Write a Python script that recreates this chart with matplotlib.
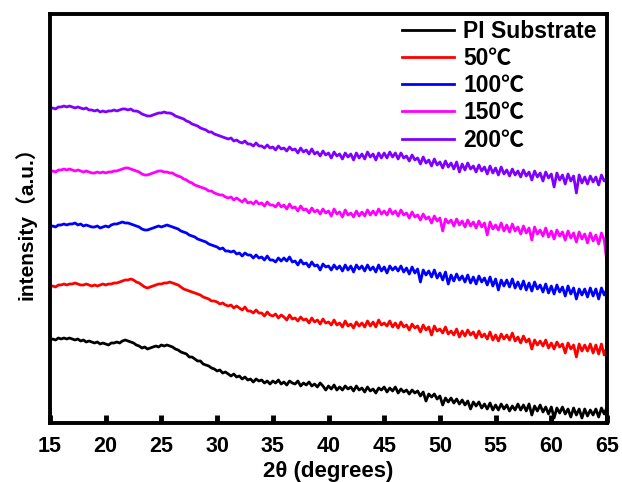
import matplotlib.pyplot as plt
import numpy as np

plt.rcParams['font.family'] = ['Liberation Sans', 'Noto Sans CJK SC']
plt.rcParams['font.weight'] = 'bold'

# 2-theta sampling grid, 0.25 degree steps
two_theta = np.linspace(15, 65, 201)

# intensities (a.u.)
pi_substrate = [
    83, 84, 83, 85, 84, 85, 84, 85, 84, 83, 84, 82, 83, 81, 82, 81,
    80, 81, 79, 80, 79, 78, 80, 80, 81, 80, 82, 83, 82, 81, 80, 78,
    77, 75, 76, 74, 75, 76, 77, 76, 78, 77, 78, 77, 76, 74, 73, 71,
    70, 69, 66, 66, 64, 62, 62, 59, 58, 57, 55, 54, 52, 53, 50, 51,
    49, 47, 49, 46, 47, 44, 46, 43, 44, 41, 44, 42, 43, 40, 42, 39,
    42, 40, 43, 39, 41, 38, 42, 40, 39, 42, 37, 40, 38, 41, 37, 39,
    36, 40, 37, 33, 37, 34, 38, 33, 36, 33, 37, 34, 36, 32, 37, 33,
    35, 31, 36, 32, 34, 30, 35, 33, 36, 31, 35, 32, 36, 30, 34, 31,
    33, 29, 33, 30, 32, 27, 31, 22, 29, 26, 29, 24, 27, 18, 25, 21,
    25, 20, 24, 19, 23, 18, 22, 14, 21, 17, 21, 15, 19, 14, 20, 13,
    18, 13, 19, 14, 18, 12, 17, 13, 19, 13, 18, 12, 19, 8, 17, 12,
    18, 11, 16, 9, 16, 5, 15, 10, 16, 9, 14, 6, 15, 8, 14, 5,
    14, 7, 13, 8, 14, 6, 15, 9, 16,
]
t50 = [
    136, 137, 136, 138, 138, 139, 138, 139, 139, 140, 139, 138, 138, 139, 138, 137,
    138, 137, 138, 139, 138, 139, 139, 140, 140, 141, 142, 143, 143, 144, 143, 141,
    140, 138, 136, 135, 136, 137, 138, 139, 139, 140, 140, 141, 140, 139, 138, 136,
    134, 133, 132, 131, 130, 129, 128, 126, 125, 124, 122, 122, 121, 119, 120, 118,
    117, 118, 115, 117, 115, 113, 116, 112, 112, 110, 113, 110, 110, 107, 111, 108,
    107, 109, 105, 108, 106, 103, 108, 104, 105, 102, 106, 103, 104, 100, 105, 101,
    103, 99, 104, 100, 101, 98, 103, 98, 100, 96, 102, 97, 99, 95, 101, 97,
    100, 96, 102, 97, 101, 96, 103, 98, 100, 97, 102, 96, 100, 95, 101, 96,
    98, 93, 99, 95, 97, 91, 98, 93, 96, 88, 97, 92, 94, 90, 96, 89,
    92, 88, 94, 86, 92, 87, 93, 88, 91, 85, 92, 86, 89, 84, 91, 83,
    88, 82, 89, 84, 88, 83, 90, 82, 86, 80, 87, 81, 84, 74, 83, 78,
    82, 77, 83, 75, 80, 74, 81, 76, 79, 70, 80, 74, 78, 66, 79, 72,
    78, 72, 79, 70, 78, 69, 79, 68, 76,
]
t100 = [
    196, 197, 196, 198, 198, 199, 198, 199, 199, 200, 198, 199, 197, 198, 197, 196,
    196, 197, 195, 196, 197, 196, 198, 199, 199, 200, 201, 200, 200, 199, 198, 197,
    196, 194, 193, 193, 194, 195, 196, 197, 196, 197, 198, 197, 196, 195, 194, 192,
    191, 190, 188, 187, 186, 184, 183, 182, 181, 179, 178, 177, 176, 174, 175, 172,
    172, 171, 172, 169, 170, 167, 170, 168, 168, 165, 168, 165, 166, 163, 167, 163,
    163, 161, 165, 162, 165, 162, 166, 161, 162, 158, 163, 159, 160, 156, 161, 157,
    158, 153, 159, 156, 157, 153, 158, 154, 157, 152, 158, 153, 157, 151, 158, 154,
    157, 152, 158, 153, 156, 151, 158, 152, 156, 150, 157, 153, 156, 152, 157, 151,
    155, 149, 156, 150, 154, 141, 153, 148, 152, 146, 153, 145, 150, 143, 151, 139,
    148, 142, 149, 143, 147, 141, 148, 140, 146, 139, 147, 141, 145, 138, 146, 137,
    144, 133, 143, 137, 143, 136, 144, 135, 141, 134, 142, 133, 140, 132, 141, 134,
    138, 131, 139, 130, 137, 129, 138, 131, 136, 127, 137, 129, 135, 124, 134, 128,
    134, 126, 135, 127, 134, 124, 135, 128, 134,
]
t150 = [
    251, 252, 251, 253, 253, 254, 253, 254, 253, 252, 253, 252, 251, 252, 251, 250,
    250, 251, 250, 251, 250, 251, 251, 252, 252, 253, 254, 255, 255, 254, 253, 252,
    251, 249, 248, 248, 249, 250, 251, 252, 252, 251, 251, 250, 250, 248, 247, 246,
    244, 243, 241, 240, 238, 237, 236, 235, 234, 232, 232, 230, 229, 228, 228, 226,
    225, 226, 223, 225, 223, 221, 224, 220, 221, 219, 222, 219, 220, 217, 221, 218,
    218, 216, 220, 216, 218, 214, 219, 215, 216, 212, 217, 213, 214, 210, 215, 211,
    213, 209, 214, 210, 212, 207, 214, 209, 211, 206, 213, 208, 210, 206, 212, 207,
    211, 207, 213, 208, 212, 208, 214, 209, 212, 208, 214, 209, 212, 207, 213, 208,
    210, 205, 211, 206, 208, 203, 209, 204, 206, 200, 207, 202, 205, 192, 204, 200,
    203, 197, 204, 198, 202, 196, 203, 197, 201, 195, 202, 196, 200, 188, 201, 194,
    198, 193, 200, 192, 198, 191, 199, 192, 196, 189, 197, 190, 195, 183, 196, 189,
    193, 187, 195, 186, 192, 184, 193, 187, 191, 183, 192, 185, 190, 181, 191, 184,
    189, 180, 190, 182, 188, 179, 190, 183, 160,
]
t200 = [
    314, 315, 314, 316, 316, 317, 316, 317, 316, 315, 316, 315, 314, 315, 313, 313,
    312, 313, 311, 312, 311, 312, 312, 313, 312, 313, 314, 314, 313, 314, 312, 312,
    311, 309, 308, 307, 307, 308, 309, 310, 310, 311, 310, 310, 309, 307, 306, 305,
    304, 302, 301, 299, 298, 297, 295, 294, 293, 291, 291, 289, 288, 287, 286, 285,
    284, 285, 282, 283, 281, 280, 282, 279, 279, 277, 280, 277, 277, 275, 278, 275,
    276, 273, 277, 274, 275, 272, 276, 273, 274, 270, 275, 271, 273, 269, 274, 269,
    271, 267, 272, 268, 270, 265, 271, 267, 269, 264, 270, 266, 269, 263, 270, 265,
    269, 264, 271, 266, 269, 263, 270, 265, 270, 265, 271, 266, 270, 264, 270, 265,
    267, 262, 268, 263, 265, 259, 266, 260, 263, 257, 264, 258, 261, 255, 262, 256,
    260, 254, 261, 251, 259, 253, 260, 254, 257, 251, 258, 252, 256, 249, 257, 250,
    255, 248, 256, 249, 253, 247, 254, 248, 252, 246, 253, 247, 251, 243, 252, 246,
    250, 242, 251, 245, 249, 236, 250, 243, 248, 239, 249, 242, 247, 230, 248, 240,
    246, 239, 247, 241, 246, 238, 248, 242, 245,
]

series = [pi_substrate, t50, t100, t150, t200]
labels = ["PI Substrate", "50℃", "100℃", "150℃", "200℃"]
colors = ["black", "red", "blue", "magenta", "#8000ff"]

fig = plt.figure(figsize=(6.22, 4.82), dpi=100)
ax = fig.add_axes([0.0804, 0.1224, 0.8955, 0.8486])

for y, lab, c in zip(series, labels, colors):
    ax.plot(two_theta, y, color=c, lw=2.0, label=lab)

ax.set_xlim(15, 65)
ax.set_ylim(0, 409)
ax.set_xticks(range(15, 66, 5))
ax.set_yticks([])
ax.tick_params(axis='x', direction='in', length=5.5, width=3.5, labelsize=15.5, pad=9)
for s in ax.spines.values():
    s.set_linewidth(2.8)

ax.set_xlabel("2θ (degrees)", fontsize=16, fontweight='bold', labelpad=3)
ax.set_ylabel("intensity（a.u.）", fontsize=15, fontweight='bold', labelpad=10)

leg = ax.legend(loc='upper right', bbox_to_anchor=(0.982, 0.985), frameon=False,
                fontsize=16.5, handlelength=2.3, handletextpad=0.4,
                labelspacing=0.18, borderpad=0, borderaxespad=0)
for line in leg.get_lines():
    line.set_linewidth(2)

fig.savefig("out.png", dpi=100)
